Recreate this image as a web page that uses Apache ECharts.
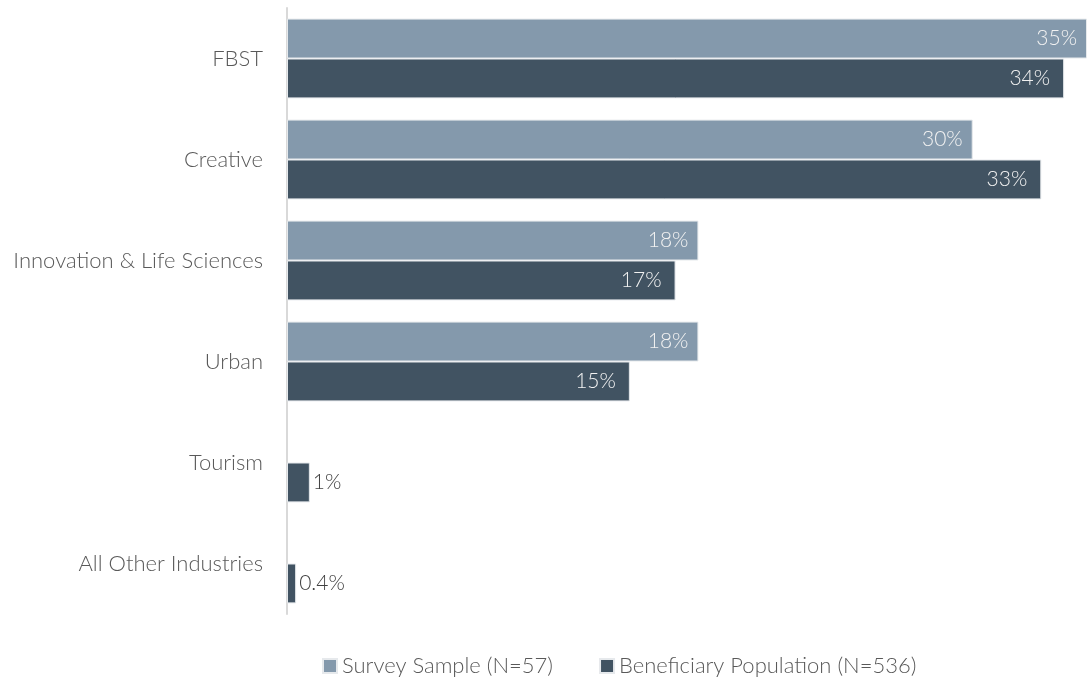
<!DOCTYPE html>
<html>
<head>
<meta charset="utf-8">
<script src="https://cdn.jsdelivr.net/npm/echarts@6/dist/echarts.min.js"></script>
<style>
  html, body { margin: 0; padding: 0; background: #ffffff; }
  #chart { width: 1087px; height: 682px; }
</style>
</head>
<body>
<div id="chart"></div>
<script>
// Industry categories, top to bottom
const categories = ['FBST', 'Creative', 'Innovation & Life Sciences', 'Urban', 'Tourism', 'All Other Industries'];
// Share of each group (%); null where the survey had no respondents
const surveySample = [35, 30, 18, 18, null, null];
const beneficiaryPopulation = [34, 33, 17, 15, 1, 0.4];
const seriesNames = ['Survey Sample (N=57)', 'Beneficiary Population (N=536)'];

const FONT = 'Lato, "Open Sans", sans-serif';
const WEIGHT = 300;
const LIGHT = '#8499ac';
const DARK = '#415362';

function fmt(v) { return v + '%'; }

// Short bars carry their labels outside, long bars inside
function buildData(values) {
  return values.map(v => {
    if (v == null) return null;
    if (v < 5) {
      return {
        value: v,
        label: { position: 'right', distance: 3, color: '#404040' }
      };
    }
    return v;
  });
}

const chart = echarts.init(document.getElementById('chart'), null, { renderer: 'canvas' });

const valueLabel = {
  show: true,
  position: 'insideRight',
  distance: 14,
  color: '#f2f2f2',
  fontSize: 21,
  fontFamily: FONT,
  fontWeight: WEIGHT,
  formatter: p => fmt(p.value)
};

chart.setOption({
  animation: false,
  textStyle: { fontFamily: FONT },
  grid: { left: 287, right: 0, top: 8, bottom: 68, containLabel: false },
  xAxis: {
    type: 'value',
    min: 0,
    max: 35,
    show: false
  },
  yAxis: {
    type: 'category',
    data: categories,
    inverse: true,
    axisLine: { show: true, lineStyle: { color: '#d9d9d9', width: 2 } },
    axisTick: { show: false },
    axisLabel: { color: '#595959', fontSize: 22, fontFamily: FONT, fontWeight: WEIGHT, margin: 24 }
  },
  legend: {
    top: 655,
    left: 322,
    padding: 0,
    itemWidth: 14,
    itemHeight: 14,
    itemGap: 46,
    icon: 'rect',
    textStyle: { color: '#595959', fontSize: 22, fontFamily: FONT, fontWeight: WEIGHT },
    data: seriesNames
  },
  series: [
    {
      name: seriesNames[0],
      type: 'bar',
      data: buildData(surveySample),
      barGap: '0%',
      barCategoryGap: '21%',
      itemStyle: { color: LIGHT, borderColor: '#e6e9ec', borderWidth: 1 },
      label: Object.assign({}, valueLabel, { distance: 10 })
    },
    {
      name: seriesNames[1],
      type: 'bar',
      data: buildData(beneficiaryPopulation),
      barGap: '0%',
      barCategoryGap: '21%',
      itemStyle: { color: DARK, borderColor: '#e6e9ec', borderWidth: 1 },
      label: valueLabel
    }
  ]
});
</script>
</body>
</html>
